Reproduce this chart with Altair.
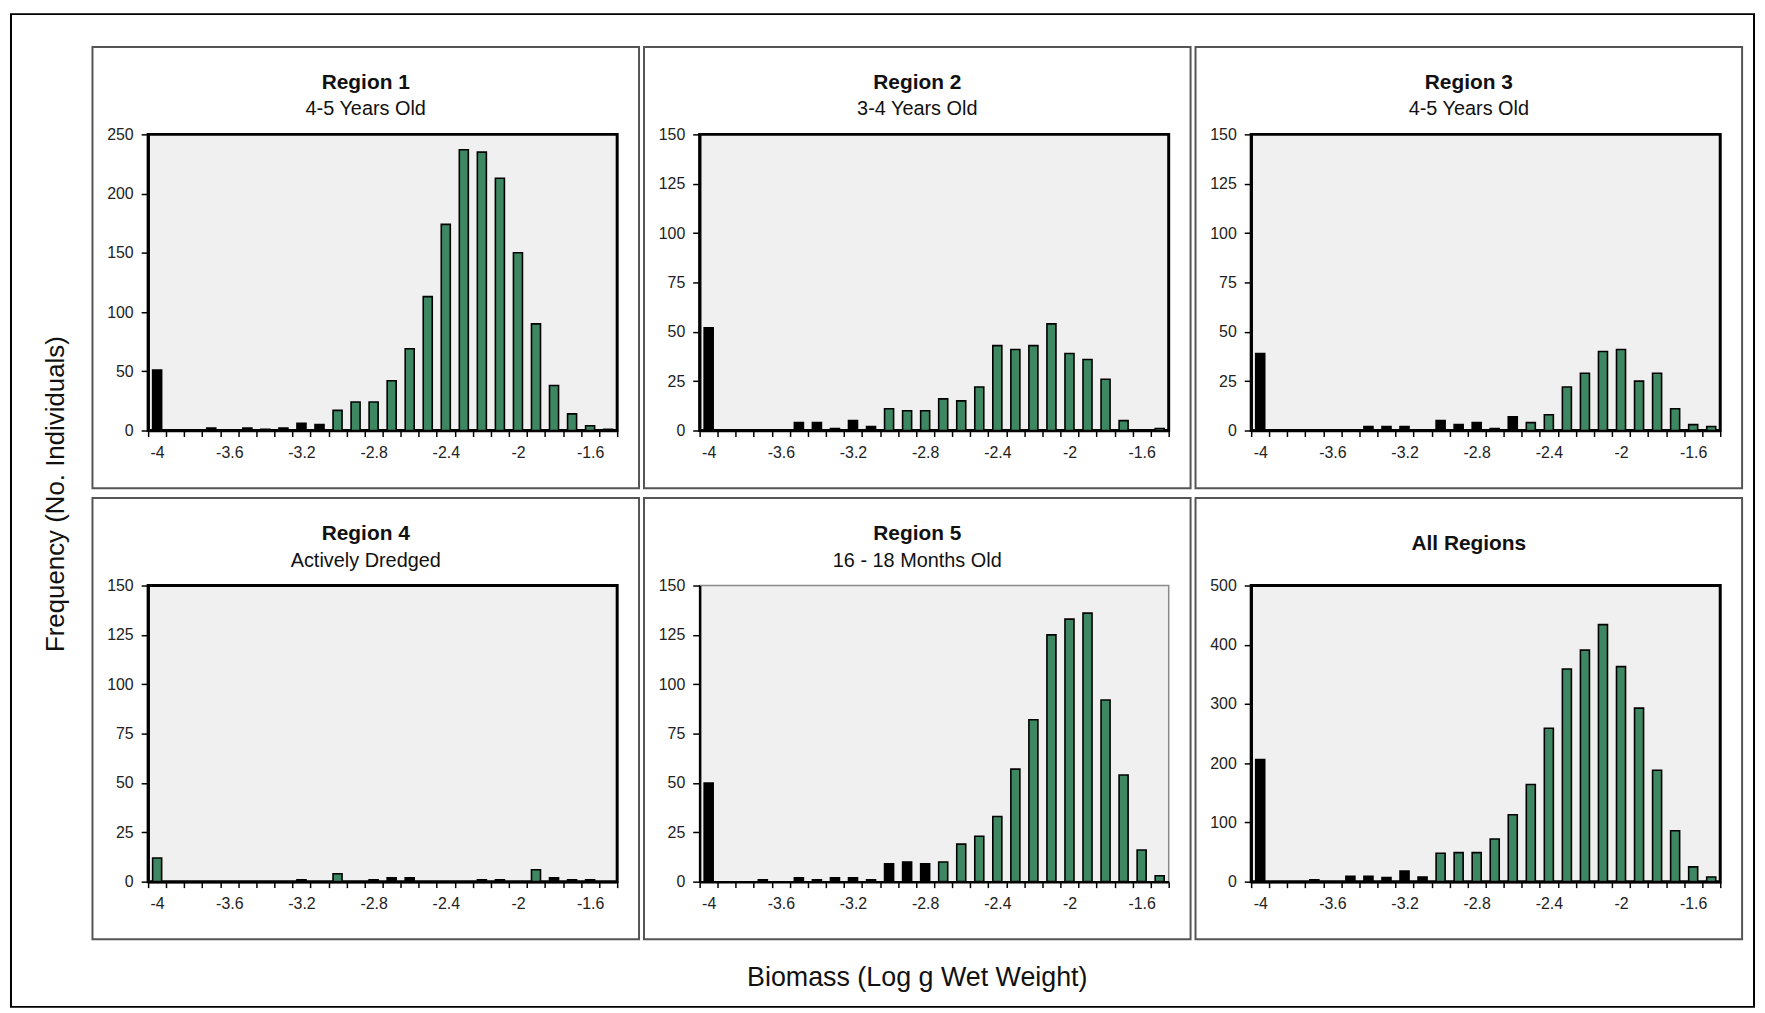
import altair as alt
import pandas as pd

FONT = "Liberation Sans"
GREEN = "#3d8862"
PLOT_BG = "#f0f0f0"

# Bin centres (log g wet weight)
BINS = [-4.0, -3.9, -3.8, -3.7, -3.6, -3.5, -3.4, -3.3, -3.2, -3.1, -3.0, -2.9, -2.8,
        -2.7, -2.6, -2.5, -2.4, -2.3, -2.2, -2.1, -2.0, -1.9, -1.8, -1.7, -1.6, -1.5]
TICK_LABELS = ["-4", "-3.6", "-3.2", "-2.8", "-2.4", "-2", "-1.6"]

# Frequencies
R1 = [51, 0, 0, 2, 0, 2, 1, 2, 6, 5, 17, 24, 24, 42, 69, 113, 174, 237, 235, 213, 150, 90, 38, 14, 4, 1]
R2 = [52, 0, 0, 0, 0, 4, 4, 1, 5, 2, 11, 10, 10, 16, 15, 22, 43, 41, 43, 54, 39, 36, 26, 5, 0, 1]
R3 = [39, 0, 0, 0, 0, 0, 2, 2, 2, 0, 5, 3, 4, 1, 7, 4, 8, 22, 29, 40, 41, 25, 29, 11, 3, 2]
R4 = [12, 0, 0, 0, 0, 0, 0, 0, 1, 0, 4, 0, 1, 2, 2, 0, 0, 0, 1, 1, 0, 6, 2, 1, 1, 0]
R5 = [50, 0, 0, 1, 0, 2, 1, 2, 2, 1, 9, 10, 9, 10, 19, 23, 33, 57, 82, 125, 133, 136, 92, 54, 16, 3]
ALL = [206, 0, 0, 3, 0, 9, 9, 7, 18, 8, 48, 49, 49, 72, 113, 164, 259, 359, 391, 434, 363, 293, 188, 86, 25, 8]

# Bar shading per bin: 1 = green, 0 = black
G1 = [0] * 10 + [1] * 16
G2 = [0] * 10 + [1] * 16
G3 = [0] * 15 + [1] * 11
G4 = [1, 0, 0, 0, 0, 0, 0, 0, 0, 0, 1, 0, 0, 0, 0, 0, 0, 0, 0, 0, 0, 1, 0, 0, 0, 0]
G5 = [0] * 13 + [1] * 13
GALL = [0] * 10 + [1] * 16

Y_250 = [0, 50, 100, 150, 200, 250]
Y_150 = [0, 25, 50, 75, 100, 125, 150]
Y_500 = [0, 100, 200, 300, 400, 500]

PANELS = [
    ("Region 1", "4-5 Years Old", R1, G1, Y_250),
    ("Region 2", "3-4 Years Old", R2, G2, Y_150),
    ("Region 3", "4-5 Years Old", R3, G3, Y_150),
    ("Region 4", "Actively Dredged", R4, G4, Y_150),
    ("Region 5", "16 - 18 Months Old", R5, G5, Y_150),
    ("All Regions", "", ALL, GALL, Y_500),
]

W, H = 472, 298
one = pd.DataFrame({"k": [0]})


def text_layer(txt, x, y, size, weight="normal", angle=0, baseline="alphabetic"):
    return alt.Chart(one).mark_text(
        text=txt, font=FONT, fontSize=size, fontWeight=weight, angle=angle,
        align="center", baseline=baseline, color="#111"
    ).encode(x=alt.value(x), y=alt.value(y))


def rect_layer(x, x2, y, y2, color, sw):
    return alt.Chart(one).mark_rect(
        fillOpacity=0, stroke=color, strokeWidth=sw
    ).encode(x=alt.value(x), x2=alt.value(x2), y=alt.value(y), y2=alt.value(y2))


label_list = "[" + ",".join("'%s'" % t for t in TICK_LABELS) + "]"
panels = []
for i, (title, sub, vals, greens, yticks) in enumerate(PANELS):
    df = pd.DataFrame({
        "bin": BINS,
        "count": vals,
        "kind": ["green" if g else "black" for g in greens],
    })
    bars = alt.Chart(df).transform_filter("datum.count > 0").mark_bar(
        width=alt.RelativeBandSize(0.5), stroke="black", strokeWidth=1.6
    ).encode(
        x=alt.X("bin:O", scale=alt.Scale(domain=BINS, paddingInner=0, paddingOuter=0),
                axis=alt.Axis(title=None, tickBand="extent", labelAngle=0, tickSize=6,
                              labelPadding=8,
                              labelExpr="indexof(%s, datum.label) >= 0 ? datum.label : ''" % label_list)),
        y=alt.Y("count:Q", scale=alt.Scale(domain=[yticks[0], yticks[-1]], nice=False),
                axis=alt.Axis(title=None, values=yticks, tickSize=7, labelPadding=8, grid=False)),
        color=alt.Color("kind:N", scale=alt.Scale(domain=["black", "green"], range=["#000000", GREEN]),
                        legend=None),
    )
    layers = [bars, rect_layer(-56, W + 22, -88, H + 58, "#555555", 2)]
    if sub:
        layers.append(text_layer(title, 219, -46, 21, "bold"))
        layers.append(text_layer(sub, 219, -19, 20))
    else:
        layers.append(text_layer(title, 219, -36, 21, "bold"))
    if i == 0:
        layers.append(rect_layer(-138, 1616, -121, 878, "#000000", 2))
        layers.append(text_layer("Frequency (No. Individuals)", -93, 362, 26, angle=270, baseline="middle"))
    if i == 4:
        layers.append(text_layer("Biomass (Log g Wet Weight)", 219, 403, 27))
    if i == 4:
        view = alt.ViewBackground(fill=PLOT_BG, stroke="#8a8a8a", strokeWidth=1.5)
    else:
        view = alt.ViewBackground(fill=PLOT_BG, stroke="#000000", strokeWidth=3)
    panels.append(alt.layer(*layers).properties(width=W, height=H, view=view))

chart = alt.concat(
    *panels, columns=3, spacing=alt.RowColnumber(row=156, column=83), bounds="flush"
).properties(padding=0).configure_axis(
    labelFont=FONT, labelFontSize=16, labelColor="#222222", tickColor="#000000",
    tickWidth=1.5, domainColor="#000000", domainWidth=2.5, grid=False
).configure_view(stroke=None)

chart.save("out.html", embed_options={"renderer": "svg", "actions": False})
